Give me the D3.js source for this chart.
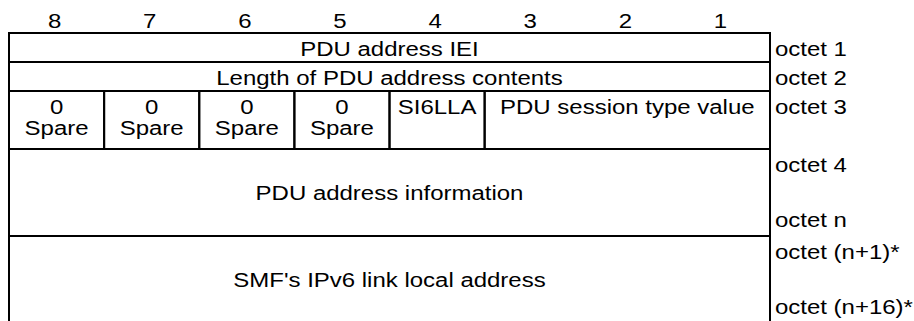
<!DOCTYPE html>
<html>
<head>
<meta charset="utf-8">
<script src="https://cdn.jsdelivr.net/npm/d3@7"></script>
<style>
  html, body { margin: 0; padding: 0; background: #fff; }
  svg { display: block; }
  text { font-family: "Liberation Sans", Arial, sans-serif; fill: #000; }
</style>
</head>
<body>
<svg id="chart" width="914" height="321"></svg>
<script>
// ---- data ----
const bitLabels = ["8", "7", "6", "5", "4", "3", "2", "1"];
// rows: height in octet-units (layout rows), octet labels (first/last)
const rowNames = ["iei", "len", "type", "addr", "llad"];
const rowUnits = [1, 1, 2, 3, 3];
const octetFirst = ["octet 1", "octet 2", "octet 3", "octet 4", "octet (n+1)*"];
const octetLast = [null, null, null, "octet n", "octet (n+16)*"];
// fields: row index, first bit (high), last bit (low), text lines
const fieldRow = [0, 1, 2, 2, 2, 2, 2, 2, 3, 4];
const fieldFrom = [8, 8, 8, 7, 6, 5, 4, 3, 8, 8];
const fieldTo = [1, 1, 8, 7, 6, 5, 4, 1, 1, 1];
const fieldText = [
  ["PDU address IEI"],
  ["Length of PDU address contents"],
  ["0", "Spare"], ["0", "Spare"], ["0", "Spare"], ["0", "Spare"],
  ["SI6LLA"],
  ["PDU session type value"],
  ["PDU address information"],
  ["SMF's IPv6 link local address"]
];

// ---- layout ----
const svg = d3.select("#chart");
const fontSize = 19.5, sx = 1.23;
const x = d3.scaleLinear().domain([0, 8]).range([9, 770]);
const totalUnits = d3.sum(rowUnits);
const y = d3.scaleLinear().domain([0, totalUnits]).range([33, 33 + totalUnits * 29]);
const rowStart = rowUnits.map((u, i) => d3.sum(rowUnits.slice(0, i)));
const rowEnd = rowUnits.map((u, i) => rowStart[i] + u);
const col = b => 8 - b; // bit -> column index

function txt(g, t, tx, ty, anchor) {
  g.append("text")
    .attr("transform", `translate(${tx},${ty}) scale(${sx},1)`)
    .attr("text-anchor", anchor)
    .attr("font-size", fontSize)
    .text(t);
}

// bit header
bitLabels.forEach((b, i) => {
  txt(svg, b, (x(i) + x(i + 1)) / 2 - 2, 28, "middle");
});

// cells
const cells = svg.append("g");
fieldText.forEach((lines, i) => {
  const r = fieldRow[i];
  const x0 = x(col(fieldFrom[i])), x1 = x(col(fieldTo[i]) + 1);
  const y0 = y(rowStart[r]), y1 = y(rowEnd[r]);
  cells.append("rect")
    .attr("x", x0).attr("y", y0)
    .attr("width", x1 - x0).attr("height", y1 - y0)
    .attr("fill", "none").attr("stroke", "#000").attr("stroke-width", 2);
  const cx = (x0 + x1) / 2;
  if (rowUnits[r] === 3) {
    txt(cells, lines[0], cx, (y0 + y1) / 2 + 7, "middle");
  } else {
    lines.forEach((l, k) => txt(cells, l, cx, y0 + 22.5 + k * 21.5, "middle"));
  }
});

// octet labels
rowNames.forEach((n, r) => {
  txt(svg, octetFirst[r], 775, y(rowStart[r]) + 22.5, "start");
  if (octetLast[r]) txt(svg, octetLast[r], 775, y(rowEnd[r]) - 9, "start");
});
</script>
</body>
</html>
